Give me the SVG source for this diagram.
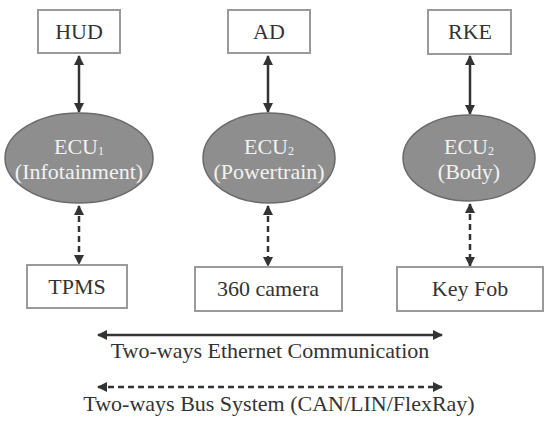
<svg xmlns="http://www.w3.org/2000/svg" width="550" height="421" viewBox="0 0 550 421">
<defs>
<marker id="ah" viewBox="0 0 10 10" refX="9" refY="5" markerWidth="10" markerHeight="10" markerUnits="userSpaceOnUse" orient="auto-start-reverse">
<path d="M0,0 L10,5 L0,10 z" fill="#333"/>
</marker>
<style>
.box{fill:#fff;stroke:#9a9a9a;stroke-width:2}
.ecu{fill:#8e8e8e;stroke:#6a6a6a;stroke-width:1.5}
text{font-family:'Liberation Serif','Times New Roman',serif;font-size:22px;text-anchor:middle}
.t{fill:#333}
.w{fill:#f2f2f2}
.sub{font-size:12px}
.ln{stroke:#333;stroke-width:2.5;fill:none}
.dash{stroke-dasharray:6,4}
</style>
</defs>
<rect width="550" height="421" fill="#fff"/>
<g id="connectors">
<line class="ln" x1="79" y1="56" x2="79" y2="112" marker-start="url(#ah)" marker-end="url(#ah)"/>
<line class="ln dash" x1="79" y1="206" x2="79" y2="264" marker-start="url(#ah)" marker-end="url(#ah)"/>
<line class="ln" x1="268" y1="56" x2="268" y2="112" marker-start="url(#ah)" marker-end="url(#ah)"/>
<line class="ln dash" x1="268" y1="206" x2="268" y2="266" marker-start="url(#ah)" marker-end="url(#ah)"/>
<line class="ln" x1="470" y1="56" x2="470" y2="114" marker-start="url(#ah)" marker-end="url(#ah)"/>
<line class="ln dash" x1="470" y1="204" x2="470" y2="266" marker-start="url(#ah)" marker-end="url(#ah)"/>
<line class="ln" x1="98" y1="335" x2="442" y2="335" marker-start="url(#ah)" marker-end="url(#ah)"/>
<line class="ln dash" x1="98" y1="387" x2="442" y2="387" marker-start="url(#ah)" marker-end="url(#ah)"/>
</g>
<g id="hud"><rect class="box" x="38" y="10" width="82" height="43"/><text class="t" x="79" y="39">HUD</text></g>
<g id="ad"><rect class="box" x="228" y="10" width="82" height="43"/><text class="t" x="269" y="39">AD</text></g>
<g id="rke"><rect class="box" x="428" y="10" width="83" height="44"/><text class="t" x="470" y="39">RKE</text></g>
<g id="ecu1"><ellipse class="ecu" cx="79" cy="158" rx="74" ry="45"/><text class="w" x="79" y="154">ECU<tspan class="sub" dy="1">1</tspan></text><text class="w" x="79" y="179">(Infotainment)</text></g>
<g id="ecu2"><ellipse class="ecu" cx="269" cy="158" rx="66" ry="45"/><text class="w" x="269" y="154">ECU<tspan class="sub" dy="1">2</tspan></text><text class="w" x="269" y="179">(Powertrain)</text></g>
<g id="ecu3"><ellipse class="ecu" cx="469" cy="158" rx="66" ry="43"/><text class="w" x="469" y="154">ECU<tspan class="sub" dy="1">2</tspan></text><text class="w" x="469" y="179">(Body)</text></g>
<g id="tpms"><rect class="box" x="27" y="265" width="100" height="43"/><text class="t" x="77" y="294">TPMS</text></g>
<g id="cam"><rect class="box" x="195" y="267" width="147" height="44"/><text class="t" x="268" y="296">360 camera</text></g>
<g id="keyfob"><rect class="box" x="397" y="267" width="146" height="44"/><text class="t" x="470" y="296">Key Fob</text></g>
<g id="legend">
<text class="t" x="270" y="358">Two-ways Ethernet Communication</text>
<text class="t" x="279" y="411">Two-ways Bus System (CAN/LIN/FlexRay)</text>
</g>
</svg>
